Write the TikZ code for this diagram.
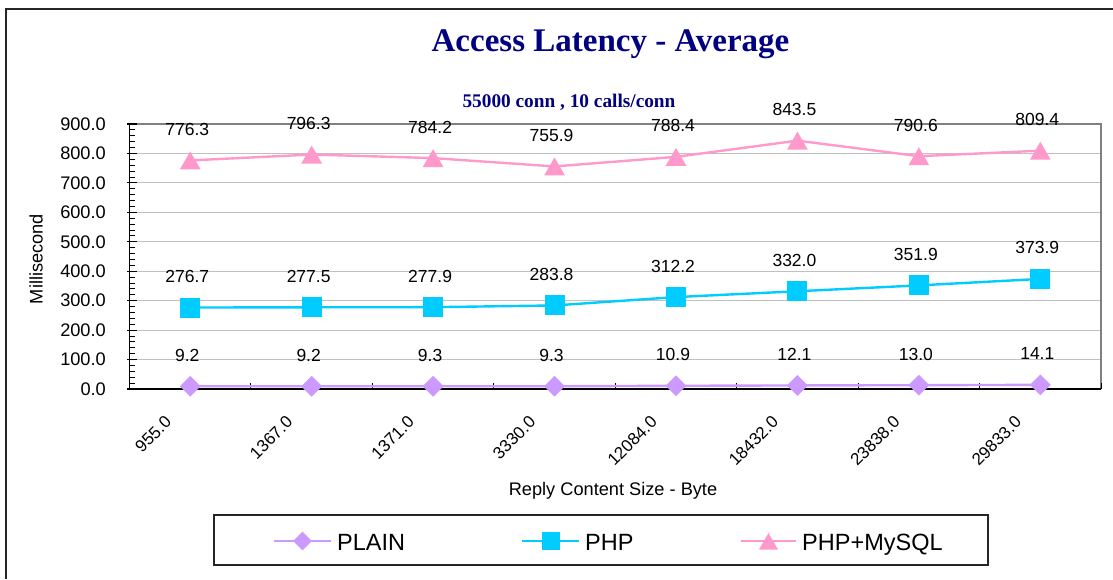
\documentclass[tikz,border=0pt]{standalone}
\usepackage{fontspec}
\setmainfont{Liberation Sans}
\newfontfamily\serifb{Liberation Serif}
\usetikzlibrary{shapes.geometric}
\definecolor{navy}{HTML}{000080}
\definecolor{plaincol}{HTML}{CC99FF}
\definecolor{phpcol}{HTML}{00CCFF}
\definecolor{sqlcol}{HTML}{FF99CC}
\definecolor{gridcol}{HTML}{C0C0C0}
\definecolor{framecol}{HTML}{808080}
\begin{document}
\begin{tikzpicture}[x=1pt,y=-1pt,
  plainmk/.style={diamond,fill=plaincol,inner sep=0pt,minimum size=21pt},
  phpmk/.style={rectangle,fill=phpcol,inner sep=0pt,minimum size=20pt},
  sqlmk/.style={regular polygon,regular polygon sides=3,fill=sqlcol,inner sep=0pt,minimum size=24pt,yshift=-3pt},
  plainln/.style={draw=plaincol,line width=2.4pt},
  phpln/.style={draw=phpcol,line width=2.4pt},
  sqlln/.style={draw=sqlcol,line width=2.4pt},
  val/.style={font=\fontsize{17.5}{20}\selectfont,inner sep=0pt},
  ytick/.style={font=\fontsize{18.2}{21}\selectfont,inner sep=0pt,anchor=east},
  xtick/.style={font=\fontsize{17}{20}\selectfont,inner sep=0pt,anchor=east,rotate=45},
  legtext/.style={font=\fontsize{23.5}{26}\selectfont,inner sep=0pt,anchor=base west},
  gridln/.style={draw=gridcol,line width=1pt},
]
\useasboundingbox (0,0) rectangle (1113,579);
% outer border
\draw[line width=1.4pt,black!85] (6,579) -- (6,9) -- (1113,9);
% titles
\node[font=\serifb\bfseries\fontsize{33}{36}\selectfont,text=navy,anchor=base,inner sep=0pt] (title) at (610.5,51) {Access Latency - Average};
\node[font=\serifb\bfseries\fontsize{19.3}{22}\selectfont,text=navy,anchor=base,inner sep=0pt] (subtitle) at (569,107) {55000 conn , 10 calls/conn};
% gridlines
\foreach \k in {1,...,8} { \draw[gridln] (129.5,{389-\k*29.4444}) -- (1101,{389-\k*29.4444}); }
% frame
\draw[draw=framecol,line width=2pt] (129.5,124) -- (1101,124) -- (1101,389);
\draw[black,line width=1.6pt] (129.5,124) -- (129.5,389) -- (1101,389);
% minor/major ticks y
\foreach \k in {0,...,45} { \draw[black,line width=0.9pt] (129.5,{389-\k*5.88889}) -- (135,{389-\k*5.88889}); }
\foreach \k in {0,...,9} { \draw[black,line width=1.2pt] (127,{389-\k*29.4444}) -- (137,{389-\k*29.4444}); }
% category ticks
\foreach \k in {0,...,8} { \draw[black,line width=1pt] ({129.5+121.44*\k},389) -- ({129.5+121.44*\k},383); }
% y tick labels
\foreach \k/\t in {0/0.0,1/100.0,2/200.0,3/300.0,4/400.0,5/500.0,6/600.0,7/700.0,8/800.0,9/900.0} {
  \node[ytick] (yl\k) at (106,{389-\k*29.4444}) {\t};
}
% x tick labels
\foreach \t [count=\i] in {955.0,1367.0,1371.0,3330.0,12084.0,18432.0,23838.0,29833.0} {
  \node[xtick] (xl\i) at ({129.5+60.72+121.44*(\i-1)-22},419) {\t};
}
% axis titles
\node[font=\fontsize{18.2}{21}\selectfont,anchor=base,inner sep=0pt] (xtitle) at (613,495) {Reply Content Size - Byte};
\node[font=\fontsize{18.2}{21}\selectfont,rotate=90,inner sep=0pt] (ytitle) at (36,259) {Millisecond};
% data points
\foreach \v [count=\i] in {9.2,9.2,9.3,9.3,10.9,12.1,13.0,14.1} {
  \coordinate (p\i) at ({129.5+60.72+121.44*(\i-1)},{389-\v*0.294444});
  \node[val] (pv\i) at ([xshift=-3pt,yshift=31pt]p\i) {\v};
}
\foreach \v [count=\i] in {276.7,277.5,277.9,283.8,312.2,332.0,351.9,373.9} {
  \coordinate (h\i) at ({129.5+60.72+121.44*(\i-1)},{389-\v*0.294444});
  \node[val] (hv\i) at ([xshift=-3pt,yshift=31pt]h\i) {\v};
}
\foreach \v [count=\i] in {776.3,796.3,784.2,755.9,788.4,843.5,790.6,809.4} {
  \coordinate (m\i) at ({129.5+60.72+121.44*(\i-1)},{389-\v*0.294444});
  \node[val] (mv\i) at ([xshift=-3pt,yshift=31pt]m\i) {\v};
}
% series lines
\draw[plainln] (p1) -- (p2) -- (p3) -- (p4) -- (p5) -- (p6) -- (p7) -- (p8);
\draw[phpln] (h1) -- (h2) -- (h3) -- (h4) -- (h5) -- (h6) -- (h7) -- (h8);
\draw[sqlln] (m1) -- (m2) -- (m3) -- (m4) -- (m5) -- (m6) -- (m7) -- (m8);
% markers
\foreach \i in {1,...,8} {
  \node[plainmk] (pm\i) at (p\i) {};
  \node[phpmk] (hm\i) at (h\i) {};
  \node[sqlmk] (mm\i) at (m\i) {};
}
% legend
\node[draw=black!85,line width=1.2pt,minimum width=774pt,minimum height=50pt,inner sep=0pt] (legend) at (601,540) {};
\coordinate (la) at (274,541); \coordinate (lb) at (331,541);
\coordinate (ha) at (522,541); \coordinate (hb) at (579,541);
\coordinate (ma) at (741,541); \coordinate (mb) at (796,541);
\draw[plainln] (la) -- (lb);
\draw[phpln] (ha) -- (hb);
\draw[sqlln] (ma) -- (mb);
\node[plainmk,minimum size=19pt] (lp) at (302.5,541) {};
\node[phpmk,minimum size=18pt] (lh) at (550.5,541) {};
\node[sqlmk,minimum size=22pt] (lm) at (768.5,541) {};
\node[legtext] (lpt) at (337,550) {PLAIN};
\node[legtext] (lht) at (585,550) {PHP};
\node[legtext] (lmt) at (802,550) {PHP+MySQL};
\end{tikzpicture}
\end{document}
